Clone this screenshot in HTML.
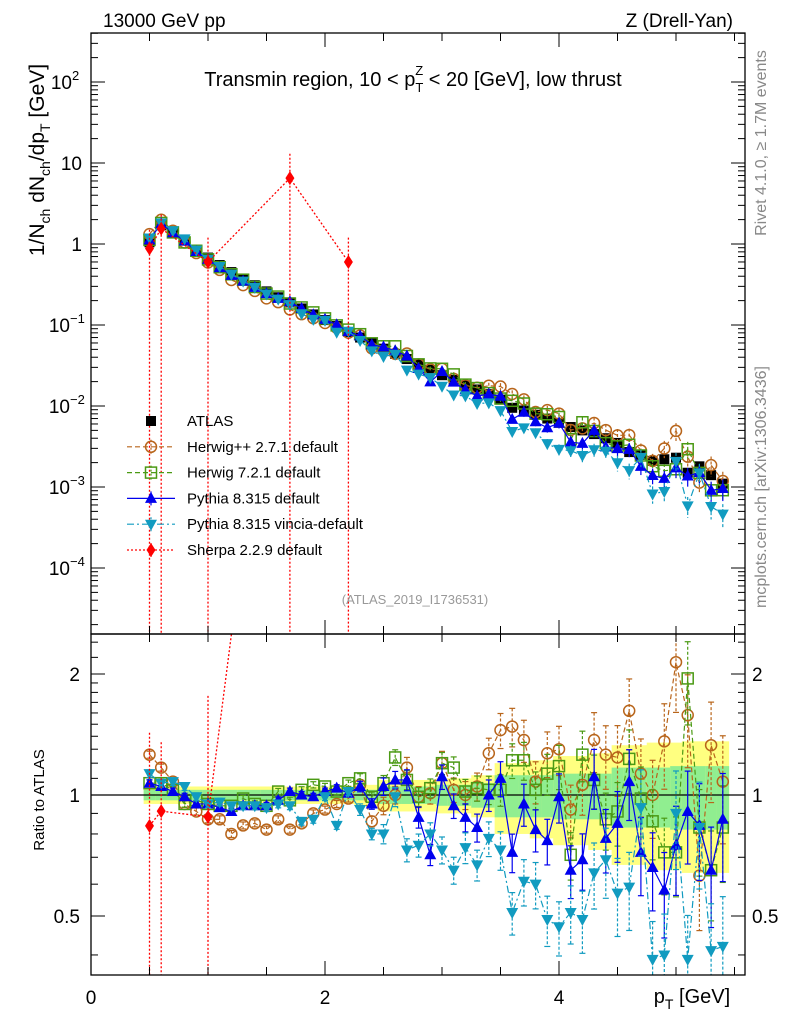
<!DOCTYPE html>
<html><head><meta charset="utf-8"><style>
html,body{margin:0;padding:0;background:#fff;}
svg{display:block;font-family:"Liberation Sans",sans-serif;}
</style></head><body>
<svg id="c" width="786" height="1024" viewBox="0 0 786 1024" xmlns="http://www.w3.org/2000/svg">
<defs>
<clipPath id="cm"><rect x="91" y="33" width="654" height="601"/></clipPath>
<clipPath id="cr"><rect x="91" y="634" width="654" height="341"/></clipPath>
</defs>
<g id="bands" clip-path="url(#cr)"></g>
<g id="mainMarks" clip-path="url(#cm)"></g>
<g id="ratioMarks" clip-path="url(#cr)"></g>
<g id="axes"></g>
<text x="103" y="27" font-size="19">13000 GeV pp</text>
<text x="733" y="27" font-size="19" text-anchor="end">Z (Drell-Yan)</text>
<text x="413" y="86" font-size="20" text-anchor="middle">Transmin region, 10 &lt; p<tspan font-size="13" dy="6">T</tspan><tspan font-size="13" dx="-8" dy="-17">Z</tspan><tspan dy="11"> &lt; 20 [GeV], low thrust</tspan></text>
<text transform="translate(44,160) rotate(-90)" font-size="21" text-anchor="middle">1/N<tspan font-size="14" dy="6">ch</tspan><tspan dy="-6"> dN</tspan><tspan font-size="14" dy="6">ch</tspan><tspan dy="-6">/dp</tspan><tspan font-size="14" dy="6">T</tspan><tspan dy="-6"> [GeV]</tspan></text>
<text transform="translate(44,800) rotate(-90)" font-size="15" text-anchor="middle">Ratio to ATLAS</text>
<text x="692" y="1003" font-size="20" text-anchor="middle">p<tspan font-size="14" dy="6">T</tspan><tspan dy="-6"> [GeV]</tspan></text>
<text transform="translate(766,143) rotate(-90)" font-size="16" fill="#888" text-anchor="middle">Rivet 4.1.0, ≥ 1.7M events</text>
<text transform="translate(766,487) rotate(-90)" font-size="16" fill="#888" text-anchor="middle">mcplots.cern.ch [arXiv:1306.3436]</text>
<text x="415" y="604" font-size="13" fill="#999" text-anchor="middle">(ATLAS_2019_I1736531)</text>
<g id="legend"></g>
</svg>
<script>
const xCenters = [0.5,0.6,0.7,0.8,0.9,1.0,1.1,1.2,1.3,1.4,1.5,1.6,1.7,1.8,1.9,2.0,2.1,2.2,2.3,2.4,2.5,2.6,2.7,2.8,2.9,3.0,3.1,3.2,3.3,3.4,3.5,3.6,3.7,3.8,3.9,4.0,4.1,4.2,4.3,4.4,4.5,4.6,4.7,4.8,4.9,5.0,5.1,5.2,5.3,5.4];
const atlasVals = [1.05,1.7,1.35,1.1,0.85,0.68,0.55,0.45,0.37,0.31,0.26,0.22,0.19,0.16,0.135,0.115,0.097,0.082,0.07,0.06,0.051,0.044,0.038,0.033,0.028,0.024,0.021,0.018,0.016,0.014,0.012,0.0095,0.0088,0.0078,0.007,0.0062,0.0055,0.005,0.0045,0.004,0.0035,0.0027,0.0025,0.0021,0.0022,0.0023,0.0015,0.0018,0.0014,0.0011];
const ratioHerwigpp = [1.26,1.17,1.08,0.95,0.91,0.87,0.87,0.80,0.84,0.85,0.82,0.87,0.82,0.85,0.90,0.92,0.95,0.98,1.06,0.86,0.94,1.00,1.17,0.99,1.01,1.20,1.03,1.00,1.05,1.27,1.45,1.48,1.37,1.08,1.27,1.30,0.92,1.06,1.37,1.26,1.24,1.62,1.13,1.00,1.36,2.14,1.58,0.63,1.33,1.08];
const ratioHerwig7 = [1.07,1.07,1.03,0.95,0.97,0.95,0.94,0.94,0.98,0.95,0.94,1.02,0.97,1.03,1.06,1.05,1.02,1.07,1.10,0.99,1.07,1.24,1.09,0.99,1.04,1.20,1.17,1.02,1.04,1.03,1.03,1.22,1.22,1.03,1.13,1.18,0.71,1.26,1.09,0.87,0.91,1.23,0.98,0.86,0.72,0.72,1.95,0.83,0.65,0.83];
const ratioPythia = [1.07,1.05,1.02,0.99,0.95,0.95,0.93,0.91,0.94,0.94,0.94,0.97,1.02,1.00,0.99,1.02,1.04,1.01,1.05,0.95,1.05,1.09,1.09,0.88,0.71,1.11,0.94,0.88,0.83,1.00,1.10,0.72,0.95,0.82,0.77,0.99,0.65,0.69,1.11,0.78,0.85,1.08,0.72,0.66,0.58,0.75,0.91,0.84,0.65,0.87];
const ratioVincia = [1.13,1.07,1.08,1.05,0.99,0.95,0.96,0.94,0.94,0.94,0.93,0.95,0.94,0.86,0.87,0.99,0.84,1.02,0.92,0.80,0.80,0.99,0.73,0.75,0.80,0.73,0.65,0.74,0.67,0.78,0.73,0.51,0.61,0.60,0.49,0.47,0.51,0.49,0.64,0.69,0.57,0.59,0.93,0.39,0.40,0.90,0.39,0.83,0.41,0.42];
const mcRelErr = [0.02,0.02,0.02,0.02,0.02,0.02,0.02,0.02,0.02,0.02,0.02,0.02,0.02,0.02,0.02,0.02,0.02,0.02,0.03,0.03,0.05,0.05,0.06,0.06,0.06,0.07,0.07,0.08,0.08,0.09,0.1,0.11,0.12,0.12,0.13,0.14,0.15,0.16,0.17,0.18,0.2,0.2,0.22,0.22,0.24,0.25,0.26,0.27,0.28,0.3];
const bandStat = [0.03,0.03,0.03,0.03,0.03,0.03,0.03,0.03,0.03,0.03,0.03,0.03,0.03,0.03,0.03,0.03,0.03,0.03,0.03,0.03,0.05,0.05,0.05,0.05,0.05,0.06,0.06,0.06,0.07,0.07,0.12,0.12,0.12,0.12,0.12,0.13,0.13,0.13,0.13,0.13,0.17,0.17,0.17,0.17,0.17,0.18,0.18,0.18,0.18,0.18];
const bandTot = [0.05,0.05,0.05,0.05,0.05,0.05,0.05,0.05,0.05,0.05,0.05,0.05,0.05,0.05,0.05,0.05,0.05,0.05,0.06,0.06,0.09,0.09,0.09,0.09,0.09,0.1,0.1,0.1,0.12,0.12,0.2,0.2,0.2,0.22,0.22,0.25,0.25,0.25,0.27,0.27,0.33,0.33,0.33,0.35,0.35,0.35,0.36,0.36,0.36,0.36];
const sherpaX = [0.5,0.6,1.0,1.7,2.2];
const sherpaVals = [0.88,1.55,0.6,6.5,0.6];
const sherpaUp = [1.5,2.3,1.2,13,1.2];
const xTicks = [0,2,4];
const yMainTicks = [-4,-3,-2,-1,0,1,2];
const yMainLabels = ["10","10","10","10","1","10","10"];
const yMainExp = ["−4","−3","−2","−1","","","2"];
const ratioTicks = [0.5,1,2];
const ratioLabels = ["0.5","1","2"];

const NS="http://www.w3.org/2000/svg";
const X=v=>91+v*117;
const Y=v=>244-81*Math.log10(v);
const R=v=>795-121*Math.log2(v);
function mk(parent,tag,attrs){const e=document.createElementNS(NS,tag);for(const k in attrs)e.setAttribute(k,attrs[k]);parent.appendChild(e);return e;}
const mainG=document.getElementById('mainMarks'), ratioG=document.getElementById('ratioMarks'), bandG=document.getElementById('bands'), axG=document.getElementById('axes'), legG=document.getElementById('legend');

xCenters.forEach((c,i)=>{
  let e=mk(bandG,'rect',{x:X(c-0.05),y:R(1+bandTot[i]),width:X(c+0.05)-X(c-0.05)+0.5,height:R(1-bandTot[i])-R(1+bandTot[i]),fill:'#ffff80'});
  
  
  let g=mk(bandG,'rect',{x:X(c-0.05),y:R(1+bandStat[i]),width:X(c+0.05)-X(c-0.05)+0.5,height:R(1-bandStat[i])-R(1+bandStat[i]),fill:'#90ee90'});
  
  
});
let ref=mk(ratioG,'line',{x1:91,x2:745,y1:R(1),y2:R(1),stroke:'#000','stroke-width':1.2});



function marker(g,type,x,y,col){
  let e;
  if(type==='sq') e=mk(g,'rect',{x:x-5,y:y-5,width:10,height:10,fill:'#000'});
  else if(type==='circ') e=mk(g,'circle',{cx:x,cy:y,r:5.5,fill:'none',stroke:col,'stroke-width':1.5});
  else if(type==='osq') e=mk(g,'rect',{x:x-5.5,y:y-5.5,width:11,height:11,fill:'none',stroke:col,'stroke-width':1.5});
  else if(type==='tu') e=mk(g,'polygon',{points:`${x},${y-6.5} ${x-6},${y+4.5} ${x+6},${y+4.5}`,fill:col});
  else if(type==='td') e=mk(g,'polygon',{points:`${x},${y+6.5} ${x-6},${y-4.5} ${x+6},${y-4.5}`,fill:col});
  else if(type==='dia') e=mk(g,'polygon',{points:`${x},${y-7} ${x-4.5},${y} ${x},${y+7} ${x+4.5},${y}`,fill:col});
  return e;
}

const series=[
 {name:'herwigpp',ratio:ratioHerwigpp,col:'#b8651b',dash:'5,3',m:'circ',ew:1.0},
 {name:'herwig7',ratio:ratioHerwig7,col:'#4b9a14',dash:'5,3',m:'osq',ew:0.9},
 {name:'pythia',ratio:ratioPythia,col:'#0000ee',dash:'',m:'tu',ew:1.0},
 {name:'vincia',ratio:ratioVincia,col:'#119bc0',dash:'7,3,2,3',m:'td',ew:1.1}
];

xCenters.forEach((c,i)=>{
  const e=marker(mainG,'sq',X(c),Y(atlasVals[i]),'#000');
  
  
});

series.forEach(s=>{
  const mp=xCenters.map((c,i)=>[X(c),Y(atlasVals[i]*s.ratio[i])]);
  const rp=xCenters.map((c,i)=>[X(c),R(s.ratio[i])]);
  const lm=mk(mainG,'polyline',{points:mp.map(p=>p.join(',')).join(' '),fill:'none',stroke:s.col,'stroke-width':1.2,'stroke-dasharray':s.dash});
  
  
  const lr=mk(ratioG,'polyline',{points:rp.map(p=>p.join(',')).join(' '),fill:'none',stroke:s.col,'stroke-width':1.2,'stroke-dasharray':s.dash});
  
  
  xCenters.forEach((c,i)=>{
    const v=atlasVals[i]*s.ratio[i], r=s.ratio[i], er=mcRelErr[i]*s.ew;
    const x=X(c);
    const e1=mk(mainG,'line',{x1:x,x2:x,y1:Y(v*(1+er)),y2:Y(v*Math.max(0.05,1-er)),stroke:s.col,'stroke-width':1.2,'stroke-dasharray':s.dash?'3,2':''});
    
    
    const e2=mk(ratioG,'line',{x1:x,x2:x,y1:R(r*(1+er)),y2:R(r*Math.max(0.05,1-er)),stroke:s.col,'stroke-width':1.2,'stroke-dasharray':s.dash?'3,2':''});
    
    
    [R(r*(1+er)),R(r*Math.max(0.05,1-er))].forEach(yy=>{const cp=mk(ratioG,'line',{x1:x-3,x2:x+3,y1:yy,y2:yy,stroke:s.col,'stroke-width':1.2});
      
      });
    const m1=marker(mainG,s.m,x,Y(v),s.col);
    
    
    const m2=marker(ratioG,s.m,x,R(r),s.col);
    
    
  });
});

{
  const col='#ff0000';
  const sm=mk(mainG,'polyline',{points:sherpaX.map((c,i)=>X(c)+','+Y(sherpaVals[i])).join(' '),fill:'none',stroke:col,'stroke-width':1.3,'stroke-dasharray':'2,2'});
  
  
  const sr=mk(ratioG,'polyline',{points:sherpaX.map((c,i)=>{const a=atlasVals[xCenters.indexOf(c)];return X(c)+','+R(sherpaVals[i]/a);}).join(' '),fill:'none',stroke:col,'stroke-width':1.3,'stroke-dasharray':'2,2'});
  
  
  sherpaX.forEach((c,i)=>{
    const x=X(c), a=atlasVals[xCenters.indexOf(c)];
    const rv=sherpaVals[i]/a;
    const eb=mk(mainG,'line',{x1:x,x2:x,y1:Y(sherpaUp[i]),y2:640,stroke:col,'stroke-width':1.3,'stroke-dasharray':'2,2'});
    
    
    if(rv<2.5){
      const er=mk(ratioG,'line',{x1:x,x2:x,y1:R(sherpaUp[i]/a),y2:980,stroke:col,'stroke-width':1.3,'stroke-dasharray':'2,2'});
      
      
    }
    const m=marker(mainG,'dia',x,Y(sherpaVals[i]),col);
    
    
    const m2=marker(ratioG,'dia',x,R(rv),col);
    
    
  });
}

[[33,634],[634,975]].forEach(([t,b])=>{
  const f=mk(axG,'rect',{x:91,y:t,width:654,height:b-t,fill:'none',stroke:'#000','stroke-width':1.3});
  
  
  for(let v=0;v<=5.5;v+=0.5){
    const L=(Math.abs(v%2)<1e-6)?14:8;
    [[b,b-L],[t,t+L]].forEach(([y1,y2])=>{const tk=mk(axG,'line',{x1:X(v),x2:X(v),y1,y2,stroke:'#000','stroke-width':1});
      
      });
  }
});
xTicks.forEach(v=>{const t=mk(axG,'text',{x:X(v),y:1004,'font-size':19,'text-anchor':'middle'});t.textContent=v;
  
  });
for(let d=-5;d<=2;d++){
  for(let k=1;k<=9;k++){
    const v=k*Math.pow(10,d), y=Y(v);
    if(y<33||y>634)continue;
    const L=k===1?14:7;
    [[91,91+L],[745,745-L]].forEach(([x1,x2])=>{const tk=mk(axG,'line',{x1,x2,y1:y,y2:y,stroke:'#000','stroke-width':1});
      
      });
  }
}
yMainTicks.forEach((d,i)=>{
  const t=mk(axG,'text',{x:yMainExp[i]?(yMainExp[i].length>1?70:72):82,y:Y(Math.pow(10,d))+7,'font-size':19,'text-anchor':'end'});
  t.textContent=yMainLabels[i];
  
  
  if(yMainExp[i]){const s=mk(axG,'text',{x:t.getAttribute('x'),y:Y(Math.pow(10,d))-2,'font-size':13,'text-anchor':'start'});s.textContent=yMainExp[i];
    
    }
});
[0.4,0.5,0.6,0.7,0.8,0.9,1,1.1,1.2,1.3,1.4,1.5,1.6,1.7,1.8,1.9,2,2.2,2.4].forEach(v=>{
  const y=R(v); if(y<634||y>975)return;
  const L=(v===0.5||v===1||v===2)?14:7;
  [[91,91+L],[745,745-L]].forEach(([x1,x2])=>{const tk=mk(axG,'line',{x1,x2,y1:y,y2:y,stroke:'#000','stroke-width':1});
    
    });
});
ratioTicks.forEach((v,i)=>{
  [[80,'end'],[752,'start']].forEach(([x,a])=>{const t=mk(axG,'text',{x,y:R(v)+7,'font-size':19,'text-anchor':a});t.textContent=ratioLabels[i];
    
    });
});

const legItems=[
 {t:'ATLAS',m:'sq',col:'#000',dash:null},
 {t:'Herwig++ 2.7.1 default',m:'circ',col:'#b8651b',dash:'5,3'},
 {t:'Herwig 7.2.1 default',m:'osq',col:'#4b9a14',dash:'5,3'},
 {t:'Pythia 8.315 default',m:'tu',col:'#0000ee',dash:''},
 {t:'Pythia 8.315 vincia-default',m:'td',col:'#119bc0',dash:'7,3,2,3'},
 {t:'Sherpa 2.2.9 default',m:'dia',col:'#ff0000',dash:'2,2'}
];
legItems.forEach((it,i)=>{
  const y=421+i*25.8;
  const g=mk(legG,'g',{});
  
  
  if(it.dash!==null){mk(g,'line',{x1:127,x2:175,y1:y,y2:y,stroke:it.col,'stroke-width':1.2,'stroke-dasharray':it.dash});
    mk(g,'line',{x1:151,x2:151,y1:y-7,y2:y+7,stroke:it.col,'stroke-width':1.2,'stroke-dasharray':it.dash?'2,2':''});}
  marker(g,it.m,151,y,it.col);
  const t=mk(g,'text',{x:187,y:y+5,'font-size':15});t.textContent=it.t;
});
</script>
</body></html>
